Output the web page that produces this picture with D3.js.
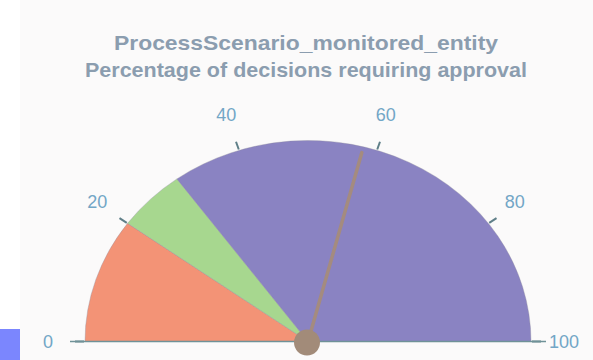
<!DOCTYPE html>
<html>
<head>
<meta charset="utf-8">
<script src="https://cdn.jsdelivr.net/npm/d3@7"></script>
<style>
  html, body { margin: 0; padding: 0; background: #ffffff; }
  svg { display: block; }
</style>
</head>
<body>
<svg id="chart" width="593" height="360"></svg>
<script>
// Gauge content
const titleLines = ["ProcessScenario_monitored_entity", "Percentage of decisions requiring approval"];
const bandStarts = [0, 20, 30];
const bandEnds = [20, 30, 100];
const bandColors = ["#f39376", "#a7d78f", "#8a83c2"];
const tickValues = [0, 20, 40, 60, 80, 100];
const tickLabels = ["0", "20", "40", "60", "80", "100"];
const needleValue = 58;
const scaleMin = 0;
const scaleMax = 100;

const svg = d3.select("#chart");
const W = 593, H = 360;

// Layout of the dial (slightly wider than tall)
const cx = 308, cy = 341.5;
const rx = 223, ry = 201;
const yScale = ry / rx;

// panel background and the small blue marker on the left edge
svg.append("rect").attr("x", 20).attr("y", 0).attr("width", W - 20).attr("height", H).attr("fill", "#fbfafa");
svg.append("rect").attr("x", 0).attr("y", 329).attr("width", 20).attr("height", 31).attr("fill", "#7b86fe");

// title, two centred lines
const titleWidths = [384, 442];
const title = svg.append("g").attr("font-family", "'Liberation Sans', Arial, sans-serif")
  .attr("font-weight", "bold").attr("font-size", 21).attr("fill", "#8b9daf").attr("text-anchor", "middle");
titleLines.forEach((t, i) => {
  title.append("text").attr("x", 306).attr("y", 50 + i * 27)
    .attr("textLength", titleWidths[i]).attr("lengthAdjust", "spacingAndGlyphs")
    .text(t);
});

// value -> angle (d3.arc convention: 0 rad at 12 o'clock, clockwise)
const angle = d3.scaleLinear().domain([scaleMin, scaleMax]).range([-Math.PI / 2, Math.PI / 2]);

const dial = svg.append("g").attr("transform", `translate(${cx},${cy}) scale(1,${yScale})`);

// baseline axis
svg.append("line").attr("x1", 70).attr("x2", 546).attr("y1", cy).attr("y2", cy)
  .attr("stroke", "#6f9298").attr("stroke-width", 1.5);

// coloured bands
const arc = d3.arc().innerRadius(0).outerRadius(rx);
const bands = bandStarts.map((s, i) => ({ start: s, end: bandEnds[i], color: bandColors[i] }));
dial.selectAll("path.band").data(bands).join("path")
  .attr("class", "band")
  .attr("d", d => arc({ startAngle: angle(d.start), endAngle: angle(d.end) }))
  .attr("fill", d => d.color)
  .attr("stroke", "#8d8a9a").attr("stroke-opacity", 0.35).attr("stroke-width", 1)
  .attr("vector-effect", "non-scaling-stroke");

// tick marks just outside the rim
dial.selectAll("line.tick").data(tickValues).join("line")
  .attr("class", "tick")
  .attr("x1", d => Math.sin(angle(d)) * (rx + 1))
  .attr("y1", d => -Math.cos(angle(d)) * (rx + 1))
  .attr("x2", d => Math.sin(angle(d)) * (rx + 10))
  .attr("y2", d => -Math.cos(angle(d)) * (rx + 10))
  .attr("stroke", "#5f7f88").attr("stroke-width", 2)
  .attr("vector-effect", "non-scaling-stroke");

// tick labels
svg.append("g").selectAll("text").data(tickValues).join("text")
  .attr("x", d => cx - 2 + Math.sin(angle(d)) * 258)
  .attr("y", d => cy - Math.cos(angle(d)) * 238)
  .attr("dy", "0.35em")
  .attr("text-anchor", "middle")
  .attr("font-family", "'Liberation Sans', Arial, sans-serif")
  .attr("font-size", 18)
  .attr("fill", "#72a6c6")
  .text((d, i) => tickLabels[i]);

// needle
const na = angle(needleValue);
const nLen = rx * 0.97;
dial.append("line")
  .attr("x1", 0).attr("y1", 0)
  .attr("x2", Math.sin(na) * nLen).attr("y2", -Math.cos(na) * nLen)
  .attr("stroke", "#a48b7f").attr("stroke-width", 3.5).attr("stroke-linecap", "round")
  .attr("vector-effect", "non-scaling-stroke");

// hub
svg.append("circle").attr("cx", cx - 1).attr("cy", cy + 1).attr("r", 13).attr("fill", "#a28b79");
</script>
</body>
</html>
